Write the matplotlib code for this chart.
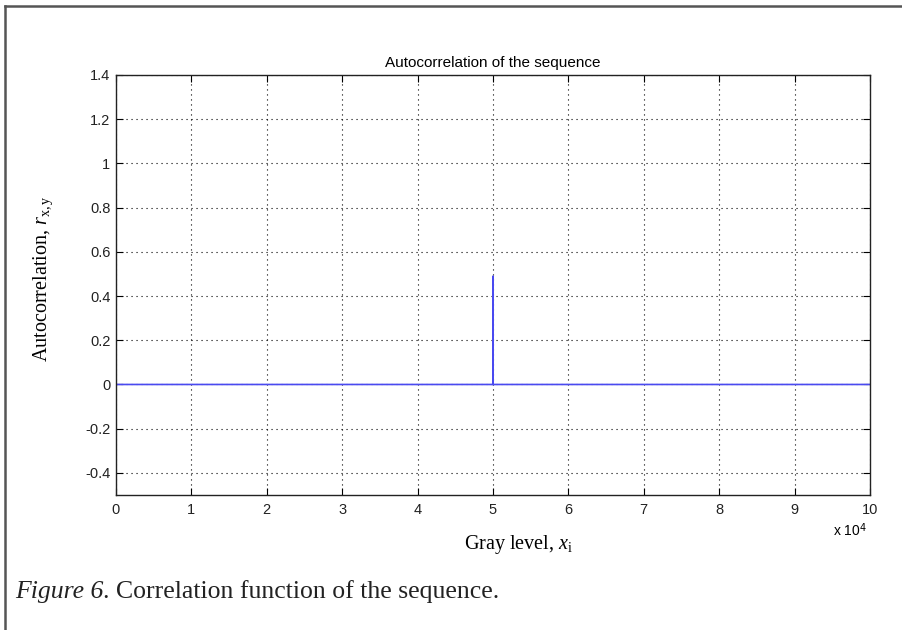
import matplotlib.pyplot as plt
from matplotlib.lines import Line2D

plt.rcParams['mathtext.fontset'] = 'custom'
plt.rcParams['mathtext.rm'] = 'Liberation Serif'
plt.rcParams['mathtext.it'] = 'Liberation Serif:italic'

# autocorrelation of the sequence: flat at zero, one spike at the middle lag
lags = [0, 49990, 50000, 50010, 100000]
r_xy = [0.0, 0.0, 0.49, 0.0, 0.0]

x_ticks = [0, 1, 2, 3, 4, 5, 6, 7, 8, 9, 10]
y_ticks = [-0.4, -0.2, 0, 0.2, 0.4, 0.6, 0.8, 1, 1.2, 1.4]
y_ticklabels = ['-0.4', '-0.2', '0', '0.2', '0.4', '0.6', '0.8', '1', '1.2', '1.4']

W, H = 903, 630
fig = plt.figure(figsize=(W / 100, H / 100), dpi=100)
fig.patch.set_facecolor('white')

ax = fig.add_axes([116 / W, 1 - 495 / H, 754 / W, 420 / H])
ax.plot([l / 1e4 for l in lags], r_xy, color='#4a4af0', lw=1.2)

ax.set_xlim(0, 10)
ax.set_ylim(-0.5, 1.4)
ax.set_xticks(x_ticks)
ax.set_xticklabels([str(t) for t in x_ticks])
ax.set_yticks(y_ticks)
ax.set_yticklabels(y_ticklabels)

ax.grid(True, color='black', linestyle=(0, (1, 3.5)), lw=0.8)
ax.tick_params(direction='in', top=True, right=True, length=5, width=0.8,
               labelsize=10.5, colors='black')
ax.tick_params(axis='x', pad=6)
ax.tick_params(axis='y', pad=4)
for lab in ax.get_xticklabels() + ax.get_yticklabels():
    lab.set_family('Liberation Sans')
    lab.set_color('#222222')
for s in ax.spines.values():
    s.set_linewidth(1.0)
    s.set_color('#222222')

ax.set_title('Autocorrelation of the sequence', fontsize=11,
             family='Liberation Sans', pad=6)

fig.text(850 / W, 1 - 530 / H, r'x 10$^\mathsf{4}$', fontsize=10,
         family='Liberation Sans', ha='center', va='center')

fig.text(519 / W, 1 - 545 / H, r'Gray level, $\mathit{x}_{\mathrm{i}}$',
         fontsize=14.5, family='Liberation Serif', ha='center', va='center')
fig.text(43 / W, 1 - 279 / H, r'Autocorrelation, $\mathit{r}_{\mathrm{x,y}}$',
         fontsize=14.5, family='Liberation Serif', ha='center', va='center',
         rotation=90)

# caption: italic part then the rest right after it
cap1 = fig.text(15 / W, 1 - 592 / H, 'Figure 6', fontsize=18.5, style='italic',
                family='Liberation Serif', ha='left', va='center',
                color='#222222')
renderer = fig.canvas.get_renderer()
bb = cap1.get_window_extent(renderer)
fig.text(bb.x1 / W, 1 - 592 / H, '. Correlation function of the sequence.',
         fontsize=18.5, family='Liberation Serif', ha='left', va='center',
         color='#222222')

# page frame (top and left edges)
fig.add_artist(Line2D([5 / W, 5 / W], [0, 1 - 6 / H], color='#555555',
                      lw=1.8, transform=fig.transFigure))
fig.add_artist(Line2D([5 / W, 1], [1 - 6 / H, 1 - 6 / H], color='#555555',
                      lw=1.8, transform=fig.transFigure))

fig.savefig('out.png', dpi=100)
